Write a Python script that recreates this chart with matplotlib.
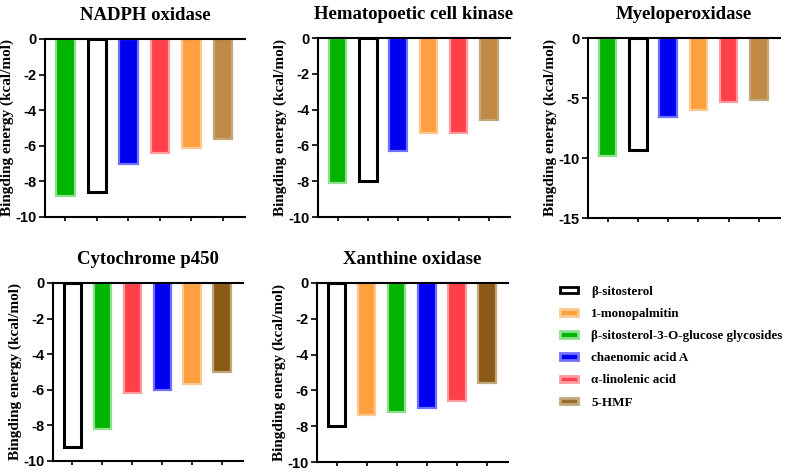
import matplotlib
matplotlib.use("Agg")
import matplotlib.pyplot as plt
from matplotlib.patches import Patch

# ---- data ----
compounds = ["β-sitosterol", "1-monopalmitin", "β-sitosterol-3-O-glucose glycosides",
             "chaenomic acid A", "α-linolenic acid", "5-HMF"]

nadph_order = ["β-sitosterol-3-O-glucose glycosides", "β-sitosterol", "chaenomic acid A",
               "α-linolenic acid", "1-monopalmitin", "5-HMF"]
nadph_vals = [-8.8, -8.6, -7.0, -6.4, -6.1, -5.6]

hck_order = ["β-sitosterol-3-O-glucose glycosides", "β-sitosterol", "chaenomic acid A",
             "1-monopalmitin", "α-linolenic acid", "5-HMF"]
hck_vals = [-8.1, -8.0, -6.3, -5.3, -5.3, -4.6]

mpo_order = ["β-sitosterol-3-O-glucose glycosides", "β-sitosterol", "chaenomic acid A",
             "1-monopalmitin", "α-linolenic acid", "5-HMF"]
mpo_vals = [-9.8, -9.3, -6.6, -6.0, -5.3, -5.2]

cyp_order = ["β-sitosterol", "β-sitosterol-3-O-glucose glycosides", "α-linolenic acid",
             "chaenomic acid A", "1-monopalmitin", "5-HMF"]
cyp_vals = [-9.2, -8.2, -6.2, -6.0, -5.7, -5.0]

xo_order = ["β-sitosterol", "1-monopalmitin", "β-sitosterol-3-O-glucose glycosides",
            "chaenomic acid A", "α-linolenic acid", "5-HMF"]
xo_vals = [-8.0, -7.4, -7.2, -7.0, -6.6, -5.6]

titles = ["NADPH oxidase", "Hematopoetic cell kinase", "Myeloperoxidase",
          "Cytochrome p450", "Xanthine oxidase"]
ylims = [(-10, 0), (-10, 0), (-15, 0), (-10, 0), (-10, 0)]
yticks = [[0, -2, -4, -6, -8, -10], [0, -2, -4, -6, -8, -10], [0, -5, -10, -15],
          [0, -2, -4, -6, -8, -10], [0, -2, -4, -6, -8, -10]]

# ---- styles ----
face = {"β-sitosterol": "white", "1-monopalmitin": "#ffa040",
        "β-sitosterol-3-O-glucose glycosides": "#00b400", "chaenomic acid A": "#0000f0",
        "α-linolenic acid": "#ff4048", "5-HMF": "#a8783a"}
edge = {"β-sitosterol": "black", "1-monopalmitin": "#ffc890",
        "β-sitosterol-3-O-glucose glycosides": "#8ee08e", "chaenomic acid A": "#7070ff",
        "α-linolenic acid": "#ff9aa0", "5-HMF": "#c0a878"}
brown_top = "#c08a45"
brown_bottom = "#8b5a16"

fig = plt.figure(figsize=(7.88, 4.72), dpi=100)
W, H = 788, 472
# axes boxes in pixels: left, right, top, bottom
boxes = [(45, 245, 39, 217), (318, 510, 38, 217), (588, 780, 38, 218),
         (53, 243, 283, 461), (317, 508, 283, 462)]
datasets = [(nadph_order, nadph_vals), (hck_order, hck_vals), (mpo_order, mpo_vals),
            (cyp_order, cyp_vals), (xo_order, xo_vals)]

serif = "Liberation Serif"
sans = "Liberation Sans"

for i, ((l, r, t, b), (order, vals)) in enumerate(zip(boxes, datasets)):
    ax = fig.add_axes([l / W, 1 - b / H, (r - l) / W, (b - t) / H])
    x = list(range(len(vals)))
    for xi, name, v in zip(x, order, vals):
        fc = face[name]
        if name == "5-HMF":
            fc = brown_top if i < 3 else brown_bottom
        lw = 2.2 if name == "β-sitosterol" else 1.6
        ax.bar(xi, v, width=0.58, color=fc, edgecolor=edge[name], linewidth=lw, zorder=2)
    ax.set_xlim(-0.65, 5.7)
    ax.set_ylim(*ylims[i])
    ax.set_yticks(yticks[i])
    ax.set_yticklabels([str(v) for v in yticks[i]], fontfamily=sans, fontweight="bold", fontsize=10.5)
    ax.set_xticks(x)
    ax.set_xticklabels([""] * len(x))
    ax.tick_params(axis="x", length=3, width=1.2, direction="out")
    ax.tick_params(axis="y", length=4, width=1.2, direction="out", pad=2)
    ax.spines["right"].set_visible(False)
    for s in ["left", "top", "bottom"]:
        ax.spines[s].set_linewidth(1.5)
    ax.set_title(titles[i], fontfamily=serif, fontweight="bold", fontsize=13.5, pad=14)
    ax.set_ylabel("Bingding energy (kcal/mol)", fontfamily=serif, fontweight="bold",
                  fontsize=11, labelpad=1)

handles = []
for name in compounds:
    fc = "#9a6a28" if name == "5-HMF" else face[name]
    handles.append(Patch(facecolor=fc, edgecolor=edge[name], linewidth=2.0, label=name))
leg = fig.legend(handles=handles, loc="upper left", bbox_to_anchor=(548 / W, 1 - 274 / H),
                 frameon=False, prop={"family": serif, "weight": "bold", "size": 9.4},
                 handlelength=1.4, handleheight=0.4, labelspacing=0.78, handletextpad=1.0)

fig.savefig("out.png", dpi=100)
